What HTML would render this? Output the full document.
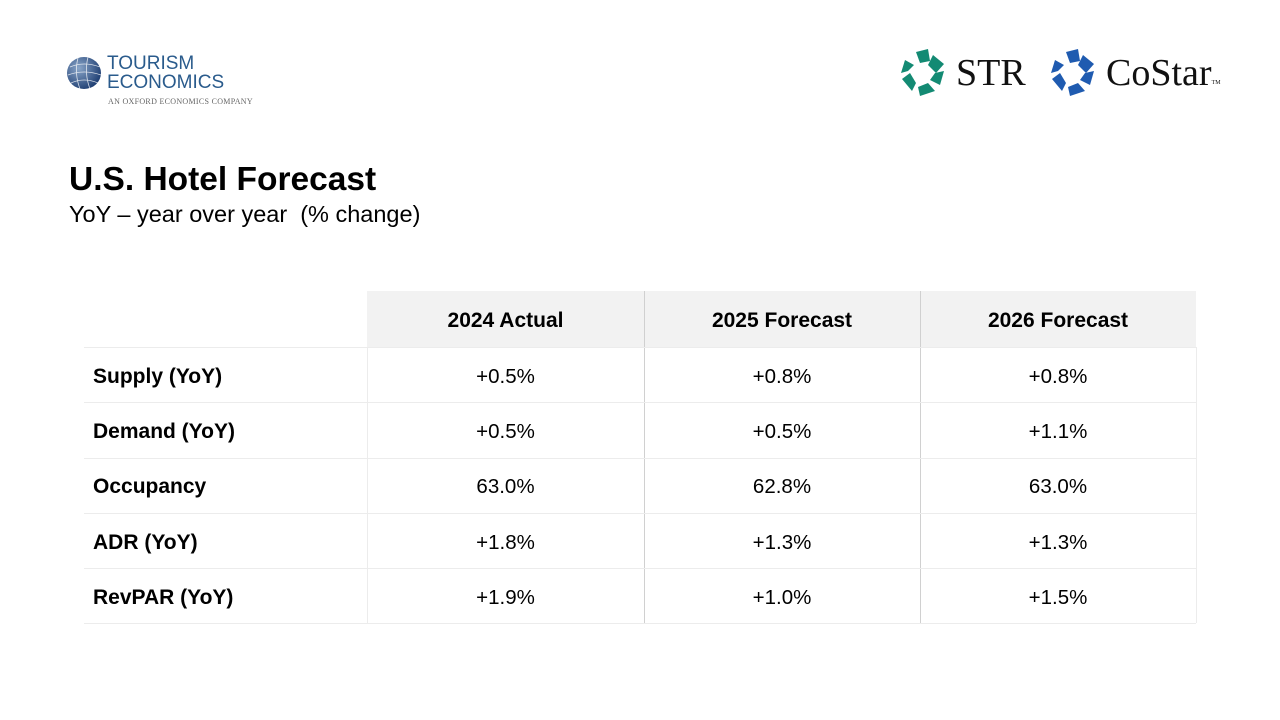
<!DOCTYPE html>
<html><head><meta charset="utf-8"><style>
body{margin:0;width:1280px;height:720px;background:#fff;position:relative;font-family:"Liberation Sans",sans-serif;overflow:hidden}
.abs{position:absolute}
.cell{position:absolute;display:flex;align-items:center;font-size:20.5px;color:#000;padding-top:3px;box-sizing:border-box}
.c{justify-content:center}
.b{font-weight:bold;font-size:21px}
.hl{position:absolute;height:1px;background:#ececec}
.vl{position:absolute;width:1px;background:#d0d0d0}
</style></head><body>
<svg class="abs" style="left:66px;top:55px" width="38" height="38" viewBox="0 0 38 38">
<defs><radialGradient id="g" cx="35%" cy="35%" r="70%"><stop offset="0" stop-color="#8aa6c9"/><stop offset="1" stop-color="#1f3f73"/></radialGradient></defs>
<ellipse cx="18" cy="18" rx="17" ry="16" fill="url(#g)"/>
<g stroke="#fff" stroke-width="0.8" fill="none" opacity="0.8"><path d="M4 12 Q18 6 34 12"/><path d="M2 20 Q18 14 35 20"/><path d="M5 28 Q18 22 32 28"/><path d="M12 3 Q8 18 14 34"/><path d="M22 2 Q18 18 24 34"/></g></svg>
<div class="abs" style="left:107px;top:54px;color:#2a5b8c;font-size:19px;line-height:19px">TOURISM<br>ECONOMICS</div>
<div class="abs" style="left:108px;top:97px;color:#666;font-size:8px;font-family:'Liberation Serif',serif;letter-spacing:0.3px">AN OXFORD ECONOMICS COMPANY</div>
<svg class="abs" style="left:900px;top:49px" width="48" height="48" viewBox="0 0 48 48"><g fill="#138a73">
<polygon points="16,3 28,0 30,12 20,14"/><polygon points="33,6 44,15 36,24 28,16"/><polygon points="44,22 40,36 30,31 35,24"/><polygon points="35,42 20,47 18,38 28,34"/><polygon points="12,42 2,30 10,24 16,34"/><polygon points="1,24 5,11 14,16 8,22"/></g></svg>
<div class="abs" style="left:956px;top:51px;font-family:'Liberation Serif',serif;font-size:38px;color:#111;line-height:44px">STR</div>
<svg class="abs" style="left:1050px;top:49px" width="48" height="48" viewBox="0 0 48 48"><g fill="#1f5bb0">
<polygon points="16,3 28,0 30,12 20,14"/><polygon points="33,6 44,15 36,24 28,16"/><polygon points="44,22 40,36 30,31 35,24"/><polygon points="35,42 20,47 18,38 28,34"/><polygon points="12,42 2,30 10,24 16,34"/><polygon points="1,24 5,11 14,16 8,22"/></g></svg>
<div class="abs" style="left:1106px;top:51px;font-family:'Liberation Serif',serif;font-size:38px;color:#111;line-height:44px">CoStar<span style="font-size:6px;vertical-align:top;position:relative;top:10px">TM</span></div>
<div class="abs" style="left:69px;top:161px;font-size:33.5px;font-weight:bold;color:#000">U.S. Hotel Forecast</div>
<div class="abs" style="left:69px;top:201px;font-size:23.5px;color:#000">YoY – year over year&nbsp; (% change)</div>
<div class="abs" style="left:367px;top:291px;width:829px;height:56px;background:#f2f2f2"></div>
<div class="vl" style="left:644px;top:291px;height:332px"></div>
<div class="vl" style="left:920px;top:291px;height:332px"></div>
<div class="hl" style="left:84px;top:347px;width:1112px"></div>
<div class="hl" style="left:84px;top:402px;width:1112px"></div>
<div class="hl" style="left:84px;top:458px;width:1112px"></div>
<div class="hl" style="left:84px;top:513px;width:1112px"></div>
<div class="hl" style="left:84px;top:568px;width:1112px"></div>
<div class="hl" style="left:84px;top:623px;width:1112px"></div>
<div class="abs" style="left:367px;top:347px;width:1px;height:276px;background:#ececec"></div>
<div class="abs" style="left:1196px;top:347px;width:1px;height:276px;background:#ececec"></div>
<div class="cell c b" style="left:367px;top:291px;width:277px;height:56px">2024 Actual</div>
<div class="cell c b" style="left:644px;top:291px;width:276px;height:56px">2025 Forecast</div>
<div class="cell c b" style="left:920px;top:291px;width:276px;height:56px">2026 Forecast</div>

<div class="cell b" style="left:93px;top:348px;height:55px">Supply (YoY)</div>
<div class="cell c" style="left:367px;top:348px;width:277px;height:55px">+0.5%</div>
<div class="cell c" style="left:644px;top:348px;width:276px;height:55px">+0.8%</div>
<div class="cell c" style="left:920px;top:348px;width:276px;height:55px">+0.8%</div>

<div class="cell b" style="left:93px;top:403px;height:55px">Demand (YoY)</div>
<div class="cell c" style="left:367px;top:403px;width:277px;height:55px">+0.5%</div>
<div class="cell c" style="left:644px;top:403px;width:276px;height:55px">+0.5%</div>
<div class="cell c" style="left:920px;top:403px;width:276px;height:55px">+1.1%</div>

<div class="cell b" style="left:93px;top:458px;height:55px">Occupancy</div>
<div class="cell c" style="left:367px;top:458px;width:277px;height:55px">63.0%</div>
<div class="cell c" style="left:644px;top:458px;width:276px;height:55px">62.8%</div>
<div class="cell c" style="left:920px;top:458px;width:276px;height:55px">63.0%</div>

<div class="cell b" style="left:93px;top:514px;height:55px">ADR (YoY)</div>
<div class="cell c" style="left:367px;top:514px;width:277px;height:55px">+1.8%</div>
<div class="cell c" style="left:644px;top:514px;width:276px;height:55px">+1.3%</div>
<div class="cell c" style="left:920px;top:514px;width:276px;height:55px">+1.3%</div>

<div class="cell b" style="left:93px;top:569px;height:55px">RevPAR (YoY)</div>
<div class="cell c" style="left:367px;top:569px;width:277px;height:55px">+1.9%</div>
<div class="cell c" style="left:644px;top:569px;width:276px;height:55px">+1.0%</div>
<div class="cell c" style="left:920px;top:569px;width:276px;height:55px">+1.5%</div>
</body></html>
